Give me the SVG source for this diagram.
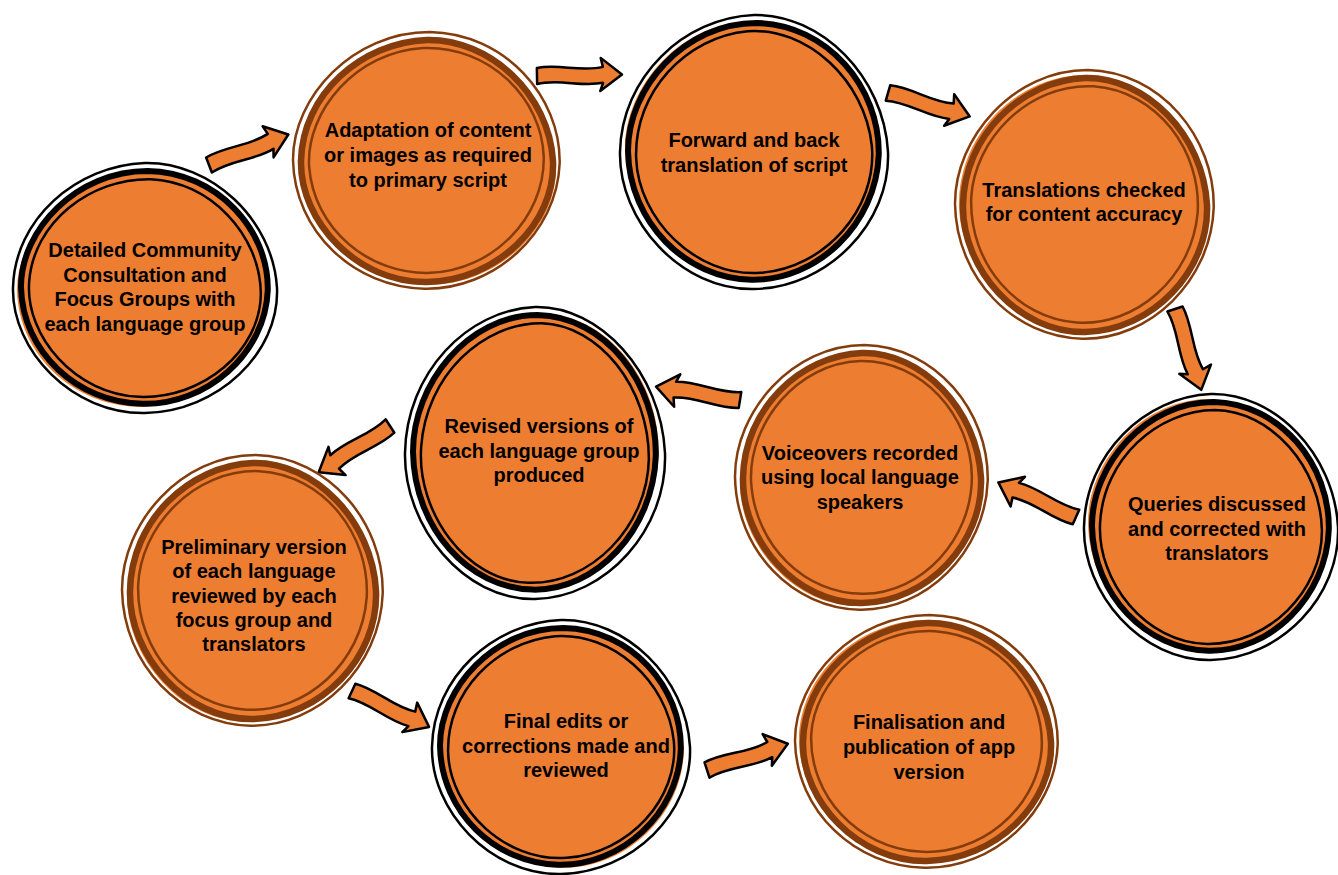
<svg xmlns="http://www.w3.org/2000/svg" xmlns:xlink="http://www.w3.org/1999/xlink" width="1338" height="875" viewBox="0 0 1338 875">
<style>
.lbl{font-family:"Liberation Sans",Arial,Helvetica,sans-serif;font-weight:bold;font-size:20px;fill:#000;text-anchor:middle}
.bk .out{fill:none;stroke:#000;stroke-width:2.5}
.bk .thick{fill:#ED7D31;stroke:#000;stroke-width:6}
.bk .in{fill:none;stroke:#000;stroke-width:2.5}
.br .out{fill:none;stroke:#843C0C;stroke-width:2.5}
.br .thick{fill:#ED7D31;stroke:#843C0C;stroke-width:6.5}
.br .in{fill:none;stroke:#843C0C;stroke-width:2.5}
.spill{fill:#ED7D31;stroke:none}
.arr{fill:#ED7D31;stroke:#000;stroke-width:2.5;stroke-linejoin:round}
</style>
<defs>
<path id="blobA" vector-effect="non-scaling-stroke" d="M0,-1 C0.5,-1.01 0.97,-0.55 1,0 C1.02,0.52 0.55,0.99 0,1 C-0.55,1.01 -1.01,0.5 -1,0 C-0.99,-0.55 -0.52,-0.98 0,-1 Z"/>
<path id="blobB" vector-effect="non-scaling-stroke" d="M0.02,-1 C0.58,-0.99 1,-0.5 0.99,0.02 C0.97,0.56 0.5,1 -0.02,0.99 C-0.54,0.98 -0.99,0.55 -1,-0.01 C-1,-0.5 -0.55,-1 0.02,-1 Z"/>
<path id="arrow" d="M0,-8 C22,-12 44,-3 66,-8 L64,-17 L85,0 L63,16 L66,8 C44,12 22,3 0,8 Z"/>
</defs>

<g id="connectors">
<use href="#arrow" class="arr" transform="translate(209,165) rotate(-21)"/>
<use href="#arrow" class="arr" transform="translate(537,76) rotate(-1)"/>
<use href="#arrow" class="arr" transform="translate(888,93) rotate(16)"/>
<use href="#arrow" class="arr" transform="translate(1175,309) rotate(72)"/>
<use href="#arrow" class="arr" transform="translate(1076,517) rotate(-156)"/>
<use href="#arrow" class="arr" transform="translate(740,400) rotate(-171)"/>
<use href="#arrow" class="arr" transform="translate(390,426) rotate(147)"/>
<use href="#arrow" class="arr" transform="translate(352,691) rotate(25)"/>
<use href="#arrow" class="arr" transform="translate(707,770) rotate(-18)"/>
</g>

<g id="n1" class="bk" transform="translate(145,288)">
<use href="#blobB" class="spill" transform="translate(-4,3) scale(124,117)"/>
<use href="#blobA" class="out" transform="scale(132,125)"/>
<use href="#blobB" class="thick" transform="scale(124,117)"/>
<use href="#blobA" class="in" transform="rotate(3) scale(116,109)"/>
<text class="lbl"><tspan x="0" y="-31">Detailed Community</tspan><tspan x="0" y="-6.5">Consultation and</tspan><tspan x="0" y="18">Focus Groups with</tspan><tspan x="0" y="42.5">each language group</tspan></text>
</g>

<g id="n2" class="br" transform="translate(427,161)">
<use href="#blobA" class="spill" transform="translate(3,3) scale(126,121)"/>
<use href="#blobB" class="out" transform="scale(134,129)"/>
<use href="#blobA" class="thick" transform="scale(126,121)"/>
<use href="#blobB" class="in" transform="rotate(-3) scale(118,113)"/>
<text class="lbl"><tspan x="1" y="-24">Adaptation of content</tspan><tspan x="1" y="1">or images as required</tspan><tspan x="1" y="26">to primary script</tspan></text>
</g>

<g id="n3" class="bk" transform="translate(754,152)">
<use href="#blobB" class="spill" transform="translate(-3,-2) scale(126,129)"/>
<use href="#blobA" class="out" transform="scale(134,137)"/>
<use href="#blobB" class="thick" transform="scale(126,129)"/>
<use href="#blobA" class="in" transform="rotate(-3) scale(118,121)"/>
<text class="lbl"><tspan x="0" y="-5">Forward and back</tspan><tspan x="0" y="20">translation of script</tspan></text>
</g>

<g id="n4" class="br" transform="translate(1085,205)">
<use href="#blobA" class="spill" transform="translate(-4,-3) scale(122,127)"/>
<use href="#blobB" class="out" transform="scale(130,135)"/>
<use href="#blobA" class="thick" transform="scale(122,127)"/>
<use href="#blobB" class="in" transform="rotate(3) scale(114,119)"/>
<text class="lbl"><tspan x="-1" y="-8">Translations checked</tspan><tspan x="-1" y="16">for content accuracy</tspan></text>
</g>

<g id="n5" class="bk" transform="translate(1211,527)">
<use href="#blobB" class="spill" transform="translate(-4,-3) scale(119,125)"/>
<use href="#blobA" class="out" transform="scale(127,133)"/>
<use href="#blobB" class="thick" transform="scale(119,125)"/>
<use href="#blobA" class="in" transform="rotate(2) scale(111,117)"/>
<text class="lbl"><tspan x="6" y="-16">Queries discussed</tspan><tspan x="6" y="9">and corrected with</tspan><tspan x="6" y="33">translators</tspan></text>
</g>

<g id="n6" class="br" transform="translate(862,478)">
<use href="#blobA" class="spill" transform="translate(-3,3) scale(119,125)"/>
<use href="#blobB" class="out" transform="scale(127,133)"/>
<use href="#blobA" class="thick" transform="scale(119,125)"/>
<use href="#blobB" class="in" transform="rotate(-2) scale(111,117)"/>
<text class="lbl"><tspan x="-2" y="-18">Voiceovers recorded</tspan><tspan x="-2" y="6">using local language</tspan><tspan x="-2" y="31">speakers</tspan></text>
</g>

<g id="n7" class="bk" transform="translate(535,453)">
<use href="#blobB" class="spill" transform="translate(3,-3) scale(122,137)"/>
<use href="#blobA" class="out" transform="scale(130,146)"/>
<use href="#blobB" class="thick" transform="scale(122,138)"/>
<use href="#blobA" class="in" transform="rotate(3) scale(114,130)"/>
<text class="lbl"><tspan x="4" y="-20">Revised versions of</tspan><tspan x="4" y="5">each language group</tspan><tspan x="4" y="29">produced</tspan></text>
</g>

<g id="n8" class="br" transform="translate(253,591)">
<use href="#blobA" class="spill" transform="translate(-3,3) scale(123,128)"/>
<use href="#blobB" class="out" transform="scale(131,136)"/>
<use href="#blobA" class="thick" transform="scale(123,128)"/>
<use href="#blobB" class="in" transform="rotate(2) scale(115,120)"/>
<text class="lbl"><tspan x="1" y="-37">Preliminary version</tspan><tspan x="1" y="-13">of each language</tspan><tspan x="1" y="12">reviewed by each</tspan><tspan x="1" y="36">focus group and</tspan><tspan x="1" y="60">translators</tspan></text>
</g>

<g id="n9" class="bk" transform="translate(561,747)">
<use href="#blobB" class="spill" transform="translate(3,3) scale(121,119)"/>
<use href="#blobA" class="out" transform="scale(129,127)"/>
<use href="#blobB" class="thick" transform="scale(121,119)"/>
<use href="#blobA" class="in" transform="rotate(-3) scale(113,111)"/>
<text class="lbl"><tspan x="5" y="-19">Final edits or</tspan><tspan x="5" y="6">corrections made and</tspan><tspan x="5" y="30">reviewed</tspan></text>
</g>

<g id="n10" class="br" transform="translate(927,742)">
<use href="#blobA" class="spill" transform="translate(-4,-3) scale(124,119)"/>
<use href="#blobB" class="out" transform="scale(132,127)"/>
<use href="#blobA" class="thick" transform="scale(124,119)"/>
<use href="#blobB" class="in" transform="rotate(3) scale(116,111)"/>
<text class="lbl"><tspan x="2" y="-13">Finalisation and</tspan><tspan x="2" y="12">publication of app</tspan><tspan x="2" y="37">version</tspan></text>
</g>
</svg>
